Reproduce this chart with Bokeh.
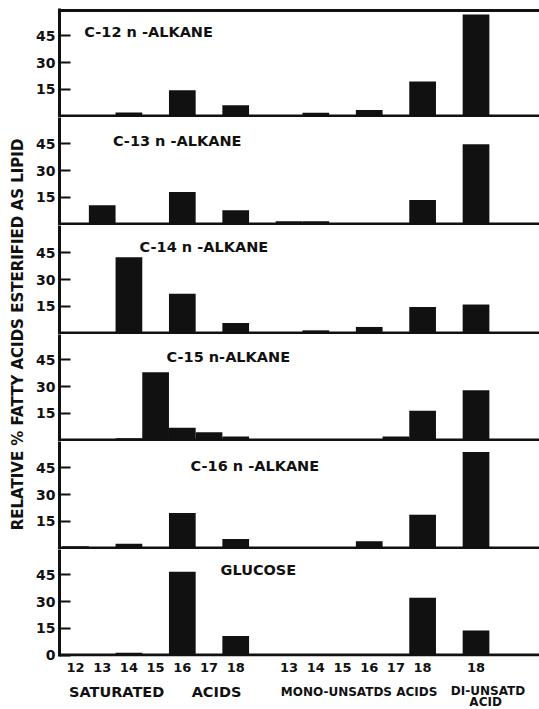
from math import pi
from bokeh.plotting import figure
from bokeh.models import Range1d, FixedTicker, Span, Label, ColumnDataSource
from bokeh.layouts import row, column
from bokeh.embed import file_html
from bokeh.resources import INLINE
from bokeh.core.properties import value

# ---------------- data ----------------
positions = [0, 1, 2, 3, 4, 5, 6, 8, 9, 10, 11, 12, 13, 15]
tick_labels = ["12", "13", "14", "15", "16", "17", "18",
               "13", "14", "15", "16", "17", "18", "18"]

c12 = [0, 0, 2.0, 0, 14.5, 0, 6.0, 0, 1.8, 0, 3.4, 0, 19.4, 57.0]
c13 = [0, 10.5, 0, 0, 18.0, 0, 7.7, 1.5, 1.5, 0, 0, 0, 13.5, 44.8]
c14 = [0, 0, 42.5, 0, 22.0, 0, 5.6, 0, 1.5, 0, 3.4, 0, 14.6, 16.0]
c15 = [0, 0, 1.0, 38.0, 6.9, 4.3, 1.9, 0, 0, 0, 0, 2.0, 16.5, 28.0]
c16 = [1.0, 0, 2.4, 0, 19.7, 0, 5.0, 0, 0, 0, 3.8, 0, 18.7, 54.0]
glucose = [0, 0, 1.3, 0, 46.8, 0, 10.7, 0, 0, 0, 0, 0, 32.2, 13.7]

series = [c12, c13, c14, c15, c16, glucose]
panel_titles = ["C-12 n -ALKANE", "C-13 n -ALKANE", "C-14 n -ALKANE",
                "C-15 n-ALKANE", "C-16 n -ALKANE", "GLUCOSE"]
y_ticks = [15, 30, 45]
y_ticks_bottom = [0, 15, 30, 45]
group_labels = ["SATURATED", "ACIDS", "MONO-UNSATDS ACIDS", "DI-UNSATD", "ACID"]
y_label = "RELATIVE % FATTY ACIDS ESTERIFIED AS LIPID"

# ---------------- layout constants ----------------
PX = 26.7 / 15.0          # pixels per data unit
SLOT = 26.7               # pixels per category slot
FRAME_W = 480
LEFT = 31
LAB_W = 28
TOP = 8
HEIGHTS = [109, 108, 109, 107, 108, 107]
AXIS_H = 22
STRIP_H = 30
BASE_OFF = 1.5
FONT = "DejaVu Sans"
INK = "#111111"

title_x = [0.33, 1.40, 2.40, 3.41, 4.31, 5.43]
title_y = [47.2, 46.6, 48.3, 46.9, 46.0, 48.0]
group_x = [1.54, 5.28, 10.62, 15.45, 15.36]
group_y = [13.5, 13.5, 13.5, 12.0, 23.0]
group_size = ["14.5px", "14.5px", "12px", "12px", "12px"]

x_range = Range1d(-0.6, -0.6 + FRAME_W / SLOT)

panels = []
n = len(series)
for i, vals in enumerate(series):
    last = (i == n - 1)
    H = HEIGHTS[i]
    p = figure(frame_width=FRAME_W, frame_height=H,
               x_range=x_range,
               y_range=Range1d(-BASE_OFF / PX, (H - BASE_OFF) / PX),
               output_backend="svg", toolbar_location=None,
               x_axis_location="below" if last else None,
               min_border_left=LEFT, min_border_right=0,
               min_border_top=TOP if i == 0 else 0,
               min_border_bottom=AXIS_H if last else 0,
               background_fill_color="white", border_fill_color="white")
    p.outline_line_color = None
    p.grid.visible = False

    src = ColumnDataSource(dict(x=positions, top=vals))
    p.vbar(x="x", top="top", bottom=0, width=1.0, source=src,
           fill_color=INK, line_color=None)

    p.add_layout(Span(location=0, dimension="width", line_color=INK, line_width=3))
    if i == 0:
        p.add_layout(Span(location=(H - BASE_OFF - 2) / PX, dimension="width",
                          line_color=INK, line_width=3))

    ya = p.yaxis[0]
    ya.ticker = FixedTicker(ticks=y_ticks_bottom if last else y_ticks, minor_ticks=[])
    ya.axis_line_width = 3
    ya.axis_line_color = INK
    ya.major_tick_line_width = 2
    ya.major_tick_line_color = INK
    ya.major_tick_in = 11
    ya.major_tick_out = 0
    ya.minor_tick_line_color = None
    ya.major_label_standoff = 4
    ya.major_label_text_font = FONT
    ya.major_label_text_font_style = "bold"
    ya.major_label_text_font_size = "14px"
    ya.major_label_text_color = INK

    p.add_layout(Label(x=title_x[i], y=title_y[i], text=panel_titles[i],
                       text_font=FONT, text_font_style="bold", text_font_size="14.5px",
                       text_color=INK, text_align="left", text_baseline="middle"))

    if last:
        xa = p.xaxis[0]
        xa.ticker = FixedTicker(ticks=positions, minor_ticks=[])
        xa.major_label_overrides = {pos: lab for pos, lab in zip(positions, tick_labels)}
        xa.axis_line_color = None
        xa.major_tick_line_color = None
        xa.minor_tick_line_color = None
        xa.major_tick_in = 0
        xa.major_tick_out = 0
        xa.major_label_standoff = 6
        xa.major_label_text_font = FONT
        xa.major_label_text_font_style = "bold"
        xa.major_label_text_font_size = "13px"
        xa.major_label_text_color = INK
    panels.append(p)

# strip under the panels with the group names
strip = figure(frame_width=FRAME_W, frame_height=STRIP_H, x_range=x_range,
               y_range=Range1d(STRIP_H, 0), output_backend="svg",
               toolbar_location=None, x_axis_location=None, y_axis_location=None,
               min_border_left=LEFT, min_border_right=0, min_border_top=0,
               min_border_bottom=0, background_fill_color="white",
               border_fill_color="white")
strip.outline_line_color = None
strip.grid.visible = False
gsrc = ColumnDataSource(dict(x=group_x, y=group_y, text=group_labels, size=group_size))
strip.text(x="x", y="y", text="text", source=gsrc, text_font=value(FONT),
           text_font_style="bold", text_font_size="size", text_color=INK,
           text_align="center", text_baseline="middle")

TOTAL_H = TOP + sum(HEIGHTS) + AXIS_H + STRIP_H
lab = figure(width=LAB_W, height=TOTAL_H, x_range=Range1d(0, LAB_W),
             y_range=Range1d(TOTAL_H, 0), output_backend="svg",
             toolbar_location=None, x_axis_location=None, y_axis_location=None,
             min_border=0, background_fill_color="white", border_fill_color="white")
lab.outline_line_color = None
lab.grid.visible = False
lab.text(x=[17], y=[334], text=[y_label], angle=pi / 2,
         text_font=value(FONT), text_font_style="bold", text_font_size="15px",
         text_color=INK, text_align="center", text_baseline="middle")

layout = row(lab, column(*panels, strip))
open("out.html", "w").write(file_html(layout, INLINE))
